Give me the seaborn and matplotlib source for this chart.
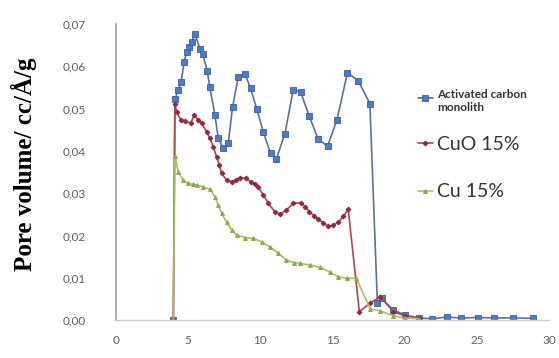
import numpy as np
import pandas as pd
import matplotlib
matplotlib.use("Agg")
import matplotlib.pyplot as plt
import seaborn as sns

# Pore size (Å) and pore volume (cc/Å/g) for each sample
acm_width = [3.97, 4.08, 4.31, 4.5, 4.73, 4.89, 5.07, 5.24, 5.47, 5.81, 6.0, 6.32,
             6.5, 6.85, 7.08, 7.43, 7.78, 8.07, 8.47, 8.93, 9.32, 9.74, 10.2, 10.7,
             11.1, 11.7, 12.27, 12.78, 13.38, 14.0, 14.65, 15.3, 16.03, 16.77, 17.58,
             18.1, 18.4, 19.2, 20.0, 21.0, 21.9, 22.9, 23.9, 25.1, 26.2, 27.5, 28.9]
acm_volume = [0.0, 0.0522, 0.0544, 0.0562, 0.0611, 0.0634, 0.0646, 0.0658, 0.0676,
              0.0642, 0.0630, 0.0589, 0.0550, 0.0485, 0.0430, 0.0406, 0.0419, 0.0503,
              0.0575, 0.0582, 0.0548, 0.0500, 0.0445, 0.0394, 0.0380, 0.0441, 0.0544,
              0.0540, 0.0482, 0.0428, 0.0411, 0.0473, 0.0585, 0.0566, 0.0512, 0.0040,
              0.0051, 0.0024, 0.0012, 0.0005, 0.0003, 0.0007, 0.0005, 0.0006, 0.0005,
              0.0005, 0.0004]

cuo_width = [3.97, 4.08, 4.2, 4.47, 4.78, 5.17, 5.42, 5.7, 5.93, 6.28, 6.5, 6.73,
             6.97, 7.15, 7.31, 7.66, 8.0, 8.3, 8.58, 9.0, 9.32, 9.6, 9.85, 10.2,
             10.55, 11.0, 11.35, 11.8, 12.27, 12.78, 13.1, 13.4, 13.7, 14.0, 14.35,
             14.7, 15.05, 15.4, 15.75, 16.08, 16.85, 17.6, 18.3, 19.2, 20.0, 21.0]
cuo_volume = [0.0, 0.0510, 0.0492, 0.0474, 0.0471, 0.0465, 0.0485, 0.0473, 0.0465,
              0.0445, 0.0430, 0.0410, 0.0386, 0.0366, 0.0347, 0.0331, 0.0327, 0.0332,
              0.0337, 0.0335, 0.0327, 0.0321, 0.0314, 0.0296, 0.0276, 0.0256, 0.0250,
              0.0260, 0.0276, 0.0277, 0.0268, 0.0256, 0.0247, 0.0238, 0.0230, 0.0222,
              0.0224, 0.0232, 0.0245, 0.0262, 0.0020, 0.0040, 0.0055, 0.0020, 0.0010,
              0.0004]

cu_width = [3.97, 4.08, 4.31, 4.66, 5.0, 5.3, 5.58, 6.04, 6.5, 6.85, 7.08, 7.31,
            7.66, 8.0, 8.35, 8.93, 9.5, 10.08, 10.66, 11.23, 11.8, 12.3, 12.73,
            13.43, 14.1, 14.8, 15.4, 15.97, 16.65, 17.6, 18.27, 19.2, 20.0, 21.0]
cu_volume = [0.0, 0.0388, 0.0350, 0.0331, 0.0323, 0.0321, 0.0319, 0.0315, 0.0309,
             0.0292, 0.0272, 0.0252, 0.0232, 0.0213, 0.0201, 0.0195, 0.0193, 0.0185,
             0.0173, 0.0158, 0.0142, 0.0136, 0.0134, 0.0130, 0.0125, 0.0114, 0.0102,
             0.0099, 0.0099, 0.0026, 0.0022, 0.0010, 0.0005, 0.0003]

series_names = ["Activated carbon\nmonolith", "CuO 15%", "Cu 15%"]
x_ticks = [0, 5, 10, 15, 20, 25, 30]
y_ticks = [0.00, 0.01, 0.02, 0.03, 0.04, 0.05, 0.06, 0.07]

sns.set_style("white")
plt.rcParams["font.family"] = ["Lato", "DejaVu Sans"]

fig = plt.figure(figsize=(5.59, 3.58), dpi=100)
ax = fig.add_axes([0.2075, 0.106, 0.775, 0.827])

styles = [
    dict(color="#5c7196", marker="s", markersize=4.6, markerfacecolor="#4a7bd0",
         markeredgecolor="#3a5f9e", markeredgewidth=0.6, linewidth=1.2),
    dict(color="#b5424e", marker="D", markersize=2.4, markerfacecolor="#8e2b3a",
         markeredgecolor="#8e2b3a", linewidth=1.2),
    dict(color="#a9c063", marker="^", markersize=2.8, markerfacecolor="#8faa48",
         markeredgecolor="#8faa48", linewidth=1.2),
]
datasets = [(acm_width, acm_volume), (cuo_width, cuo_volume), (cu_width, cu_volume)]

for (xs, ys), name, st in zip(datasets, series_names, styles):
    df = pd.DataFrame({"width": xs, "volume": ys})
    sns.lineplot(data=df, x="width", y="volume", ax=ax, sort=False,
                 estimator=None, label=name, **st)

ax.set_xlim(0, 30)
ax.set_ylim(0, 0.07)
ax.set_xticks(x_ticks)
ax.set_yticks(y_ticks)
ax.set_yticklabels([f"{v:.2f}".replace(".", ",") for v in y_ticks])
ax.tick_params(axis="both", length=0, labelsize=8.5, labelcolor="#5e5e5e")
ax.tick_params(axis="x", pad=11)
ax.tick_params(axis="y", pad=22)

for side in ["top", "right"]:
    ax.spines[side].set_visible(False)
ax.spines["left"].set_color("#a8a8a8")
ax.spines["left"].set_linewidth(1.3)
ax.spines["bottom"].set_color("#cfcfcf")
ax.spines["bottom"].set_linewidth(1.0)

ax.set_xlabel("")
ax.set_ylabel("Pore volume/ cc/Å/g", family="Liberation Serif", fontweight="bold",
              fontsize=18, color="black")
ax.yaxis.set_label_coords(-0.183, 0.525)

# Legend: small two-line entry on top, larger entries below
handles, labels = ax.get_legend_handles_labels()
leg_top = ax.legend(handles[:1], labels[:1], loc="upper left",
                    bbox_to_anchor=(0.679, 0.807), frameon=False, fontsize=14,
                    handlelength=0.75, handletextpad=0.25, borderaxespad=0)
t0 = leg_top.get_texts()[0]
t0.set_fontsize(8.5)
t0.set_fontweight("bold")
t0.set_color("#333333")
ax.add_artist(leg_top)

leg_bottom = ax.legend(handles[1:], labels[1:], loc="upper left",
                       bbox_to_anchor=(0.679, 0.647), frameon=False, fontsize=14,
                       handlelength=0.75, handletextpad=0.25, labelspacing=1.55,
                       borderaxespad=0)
for t in leg_bottom.get_texts():
    t.set_color("#333333")

fig.savefig("out.png", dpi=100)
